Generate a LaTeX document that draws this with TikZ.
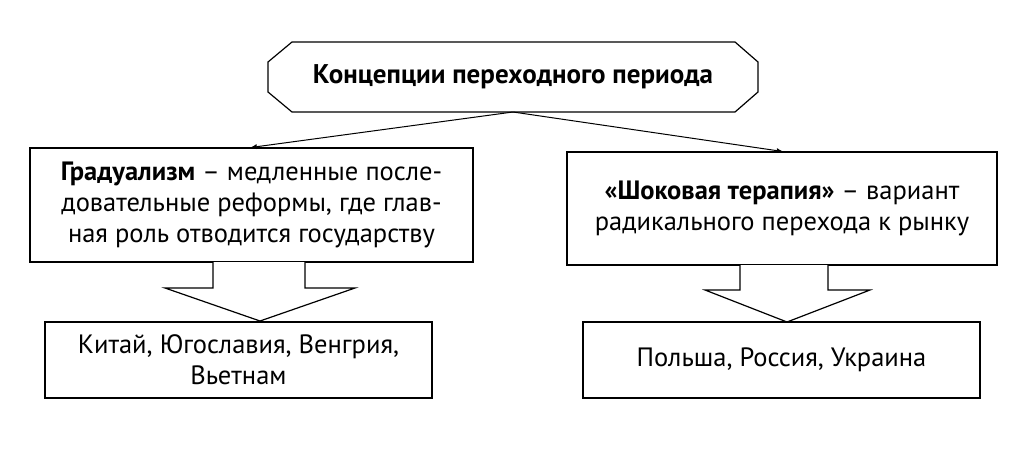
\documentclass[tikz,border=0pt]{standalone}
\usepackage{fontspec}
\setmainfont{PT Sans}
\usetikzlibrary{arrows,positioning}
\tikzset{
  box/.style = {draw=black, line width=1.2pt, align=center, inner sep=0pt, font=\fontsize{26.5}{31}\selectfont},
  blockarrow/.style = {draw=black, line width=1.2pt, fill=white},
}
\begin{document}
\begin{tikzpicture}[x=1pt,y=-1pt,>=stealth']
\useasboundingbox (0,0) rectangle (1024,449);
% top heading
\draw[line width=1.2pt] (292,42) -- (735,42) -- (758,62) -- (758,92) -- (735,112)
  -- (292,112) -- (268,92) -- (268,62) -- cycle;
\node (title) at (513,77) {\fontsize{27}{30}\selectfont\bfseries Концепции переходного периода};
\coordinate (root) at (513,112);
% second level
\node [box, minimum width=443, minimum height=114] (grad) at (251.5,205)
  {\textbf{Градуализм} – медленные после-\\довательные реформы, где глав-\\ная роль отводится государству};
\node [box, minimum width=430, minimum height=113] (shock) at (782,208.5)
  {\textbf{«Шоковая терапия»} – вариант\\радикального перехода к рынку};
\draw[->, line width=1pt] (root) -- (grad.north);
\draw[->, line width=1pt] (root) -- (shock.north);
% block arrows
\draw[blockarrow] (213,262) -- (213,288) -- (165,288) -- (260,321) -- (355,288)
  -- (305,288) -- (305,262);
\draw[blockarrow] (740,265) -- (740,290) -- (705,290) -- (787,322) -- (870,290)
  -- (828,290) -- (828,265);
% examples
\node [box, minimum width=387, minimum height=76] (gradex) at (238.5,360)
  {Китай, Югославия, Венгрия,\\Вьетнам};
\node [box, minimum width=397, minimum height=76] (shockex) at (781.5,360)
  {Польша, Россия, Украина};
\end{tikzpicture}
\end{document}
